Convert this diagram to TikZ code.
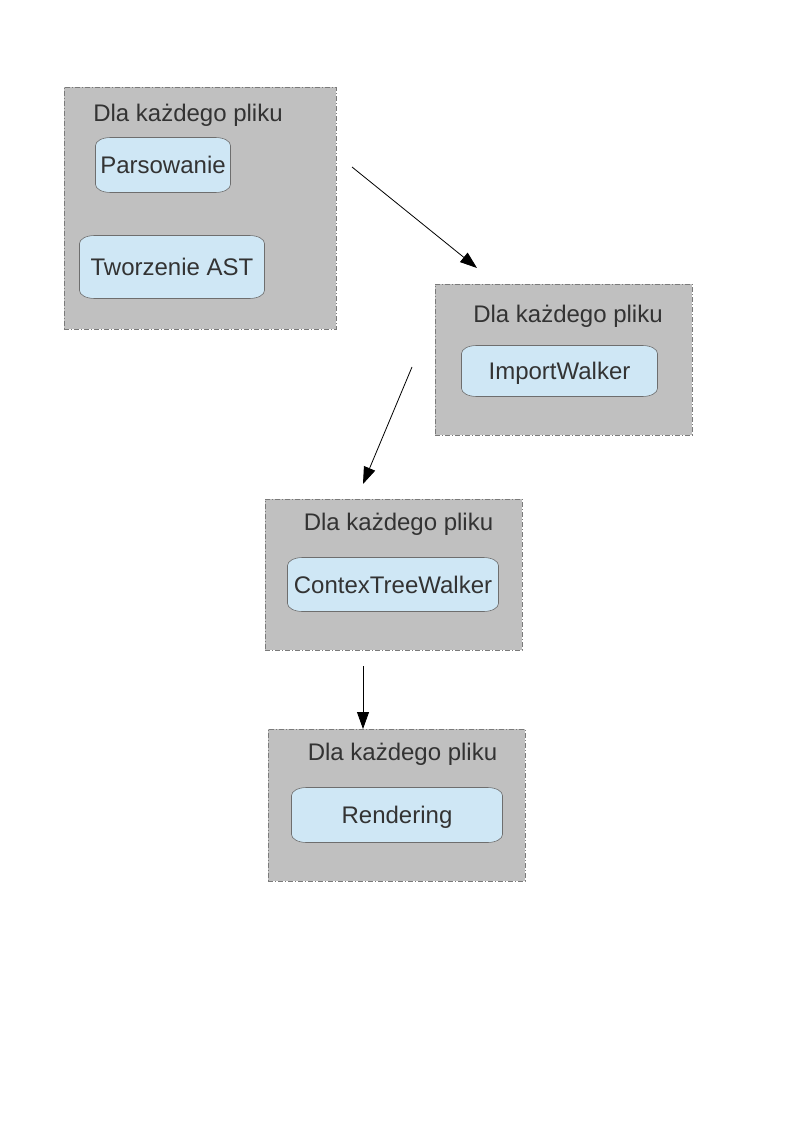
\documentclass[tikz,border=0pt]{standalone}
\usepackage{fontspec}
\setmainfont{Liberation Sans}
\usetikzlibrary{arrows.meta,calc}
\definecolor{boxfill}{HTML}{C0C0C0}
\definecolor{boxline}{HTML}{7A7A7A}
\definecolor{capfill}{HTML}{CFE7F5}
\definecolor{capline}{HTML}{6E6E6E}
\definecolor{txt}{HTML}{333333}
\tikzset{
  grpbox/.style={draw=boxline, fill=boxfill, line width=0.6pt,
    dash pattern=on 5pt off 2pt on 1pt off 2pt, inner sep=0pt},
  grptitle/.style={text=txt, inner sep=0pt, font=\fontsize{24}{28}\selectfont},
  capsule/.style={inner sep=0pt, text=txt, font=\fontsize{24}{28}\selectfont,
    text height=19pt, text depth=2pt,
    path picture={
      \path (path picture bounding box.south west) coordinate (cpsw)
            (path picture bounding box.north east) coordinate (cpne);
      \draw[fill=capfill, draw=capline, line width=0.6pt]
        let \p1=(cpsw), \p2=(cpne) in
        (\x1+15.5pt,\y2-0.5pt) -- (\x2-15.5pt,\y2-0.5pt)
        arc[start angle=90,end angle=0,x radius=15pt,y radius=8pt]
        -- (\x2-0.5pt,\y1+8.5pt)
        arc[start angle=0,end angle=-90,x radius=15pt,y radius=8pt]
        -- (\x1+15.5pt,\y1+0.5pt)
        arc[start angle=270,end angle=180,x radius=15pt,y radius=8pt]
        -- (\x1+0.5pt,\y2-8.5pt)
        arc[start angle=180,end angle=90,x radius=15pt,y radius=8pt]
        -- cycle;
    }},
  flow/.style={draw=black, line width=0.8pt, -{Triangle[length=17pt,width=12pt]}}
}
\begin{document}
\begin{tikzpicture}[x=1pt,y=-1pt]
\useasboundingbox (0,0) rectangle (794,1123);
\fill[white] (0,0) rectangle (794,1123);

% group 1
\node[grpbox, minimum width=272pt, minimum height=242pt] (g1) at (200,208) {};
\node[grptitle] (t1) at (188,115) {Dla każdego pliku};
\node[capsule, minimum width=136pt, minimum height=56pt] (parse) at (163,165) {Parsowanie};
\node[capsule, minimum width=186pt, minimum height=64pt] (ast) at (172,267) {Tworzenie AST};

% group 2
\node[grpbox, minimum width=257pt, minimum height=151pt] (g2) at (563.5,359.5) {};
\node[grptitle] (t2) at (568,316) {Dla każdego pliku};
\node[capsule, minimum width=197pt, minimum height=52pt] (imp) at (559.5,371) {ImportWalker};

% group 3
\node[grpbox, minimum width=257pt, minimum height=151pt] (g3) at (393.5,574.5) {};
\node[grptitle] (t3) at (398.5,524) {Dla każdego pliku};
\node[capsule, minimum width=212pt, minimum height=55pt] (ctx) at (393,584.5) {ContexTreeWalker};

% group 4
\node[grpbox, minimum width=257pt, minimum height=152pt] (g4) at (396.5,805) {};
\node[grptitle] (t4) at (402.5,754) {Dla każdego pliku};
\node[capsule, minimum width=212pt, minimum height=56pt] (rend) at (397,815) {Rendering};

% arrows
\coordinate (a1s) at (352,167);
\coordinate (a1e) at (477,268);
\coordinate (a2s) at (412,367);
\coordinate (a2e) at (363,484);
\coordinate (a3s) at (363,666);
\coordinate (a3e) at (363,729);
\draw[flow] (a1s) -- (a1e);
\draw[flow] (a2s) -- (a2e);
\draw[flow] (a3s) -- (a3e);
\end{tikzpicture}
\end{document}
